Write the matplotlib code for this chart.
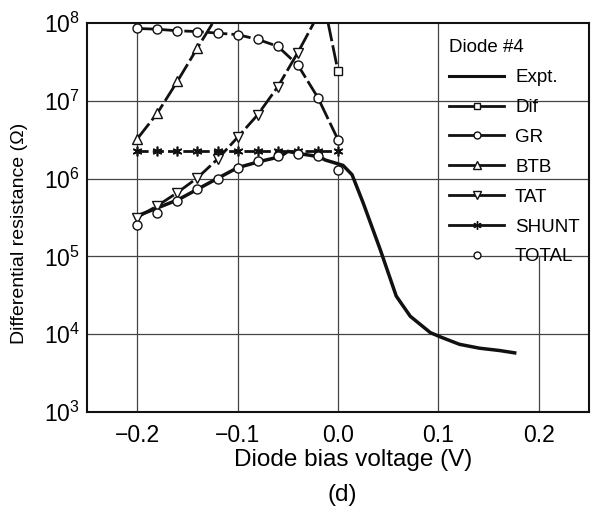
import numpy as np
import matplotlib
matplotlib.use('Agg')
from matplotlib import pyplot as plt
from matplotlib.lines import Line2D

plt.rcParams['font.family'] = ['Liberation Sans', 'DejaVu Sans']
plt.rcParams['mathtext.fontset'] = 'custom'
plt.rcParams['mathtext.rm'] = 'Liberation Sans'
plt.rcParams['mathtext.it'] = 'Liberation Sans:italic'
plt.rcParams['mathtext.bf'] = 'Liberation Sans:bold'

# model curves sampled every 0.02 V (log10 of resistance)
v_model = [-0.20, -0.18, -0.16, -0.14, -0.12, -0.10, -0.08, -0.06, -0.04, -0.02, 0.00]
gr_log = [7.93, 7.92, 7.90, 7.89, 7.87, 7.85, 7.79, 7.70, 7.46, 7.04, 6.50]
shunt_log = [6.36] * 11
total_log = [5.41, 5.56, 5.71, 5.86, 6.00, 6.13, 6.22, 6.29, 6.32, 6.29, 6.11]

v_btb = [-0.20, -0.18, -0.16, -0.14, -0.12, -0.10]
btb_log = [6.51, 6.84, 7.25, 7.68, 8.10, 8.50]

v_tat = [-0.20, -0.18, -0.16, -0.14, -0.12, -0.10, -0.08, -0.06, -0.04, -0.02]
tat_log = [5.50, 5.65, 5.82, 6.01, 6.25, 6.53, 6.82, 7.18, 7.62, 8.10]

v_dif = [-0.02, 0.00]
dif_log = [8.64, 7.38]

# measured curve
v_expt = [-0.200, -0.159, -0.119, -0.100, -0.078, -0.058, -0.050, -0.038, -0.018,
          -0.013, 0.005, 0.014, 0.025, 0.042, 0.058, 0.072, 0.092, 0.103, 0.121,
          0.141, 0.161, 0.176]
expt_log = [5.52, 5.73, 6.01, 6.14, 6.22, 6.28, 6.35, 6.32, 6.28,
            6.24, 6.17, 6.05, 5.69, 5.09, 4.49, 4.23, 4.02, 3.96, 3.87,
            3.82, 3.79, 3.76]

xticks = [-0.2, -0.1, 0.0, 0.1, 0.2]
xticklabels = ['\u22120.2', '\u22120.1', '0.0', '0.1', '0.2']
yticks = [1e3, 1e4, 1e5, 1e6, 1e7, 1e8]

def p10(a):
    return 10 ** np.array(a)

fig = plt.figure(figsize=(5.96, 5.07), dpi=100)
ax = fig.add_axes([87/596, 1 - 412/507, 502/596, 389/507])
ax.set_yscale('log')
ax.set_xlim(-0.25, 0.25)
ax.set_ylim(1e3, 1e8)

# grid, the 0.2 line stops under the legend area
for x in xticks:
    top = 0.4 if x > 0.15 else 1.0
    ax.axvline(x, ymin=0, ymax=top, color='#444444', lw=0.9, zorder=1)
for y in yticks[1:-1]:
    ax.axhline(y, color='#444444', lw=0.9, zorder=1)

dash = (0, (7, 1.5))
mk = dict(mfc='white', mec='#111111', mew=1.0)
ax.plot(v_expt, p10(expt_log), color='#111111', lw=2.5, zorder=3)
ax.plot(v_dif, p10(dif_log), color='#111111', lw=2.0, ls=dash, marker='s', ms=6, **mk, zorder=4)
ax.plot(v_model, p10(gr_log), color='#111111', lw=2.0, ls=dash, marker='o', ms=6.5, **mk, zorder=4)
ax.plot(v_btb, p10(btb_log), color='#111111', lw=2.0, ls=dash, marker='^', ms=7, **mk, zorder=4)
ax.plot(v_tat, p10(tat_log), color='#111111', lw=2.0, ls=dash, marker='v', ms=7, **mk, zorder=4)
ax.plot(v_model, p10(shunt_log), color='#111111', lw=2.0, ls=(0, (4, 1.5)), marker=(6, 2, 0), ms=7,
        mec='#111111', mew=1.2, zorder=4)
ax.plot(v_model, p10(total_log), ls='none', marker='o', ms=6.5, **mk, zorder=5)

ax.set_xticks(xticks)
ax.set_xticklabels(xticklabels)
ax.set_yticks(yticks)
ax.set_yticklabels([r'$10^{%d}$' % k for k in range(3, 9)])
ax.minorticks_off()
ax.tick_params(length=0, labelsize=16.5)
ax.tick_params(axis='x', pad=9)
ax.tick_params(axis='y', pad=5)
for s in ax.spines.values():
    s.set_linewidth(1.5)
    s.set_color('#111111')

ax.set_xlabel('Diode bias voltage (V)', fontsize=17.5)
ax.xaxis.set_label_coords(0.53, -0.095)
ax.set_ylabel('Differential resistance (\u03a9)', fontsize=14)
ax.yaxis.set_label_coords(-0.118, 0.46)
fig.text(342/596, 1 - 484/507, '(d)', fontsize=17.5, ha='center', va='top')

handles = [
    Line2D([], [], color='#111111', lw=2.2),
    Line2D([], [], color='#111111', lw=2.0, marker='s', ms=5, **mk),
    Line2D([], [], color='#111111', lw=2.0, marker='o', ms=5, **mk),
    Line2D([], [], color='#111111', lw=2.0, marker='^', ms=5.5, **mk),
    Line2D([], [], color='#111111', lw=2.0, marker='v', ms=5.5, **mk),
    Line2D([], [], color='#111111', lw=2.0, marker=(6, 2, 0), ms=6, mec='#111111'),
    Line2D([], [], ls='none', marker='o', ms=5, **mk),
]
labels = ['Expt.', 'Dif', 'GR', 'BTB', 'TAT', 'SHUNT', 'TOTAL']
leg = ax.legend(handles, labels, title='Diode #4', loc='upper left',
                bbox_to_anchor=(0.722, 0.958), frameon=False, fontsize=13.5,
                title_fontsize=13.5, numpoints=1, handlelength=2.9,
                handletextpad=0.6, labelspacing=0.68, borderaxespad=0,
                borderpad=0, alignment='left')
leg.set_zorder(6)

fig.savefig('out.png', dpi=100)
